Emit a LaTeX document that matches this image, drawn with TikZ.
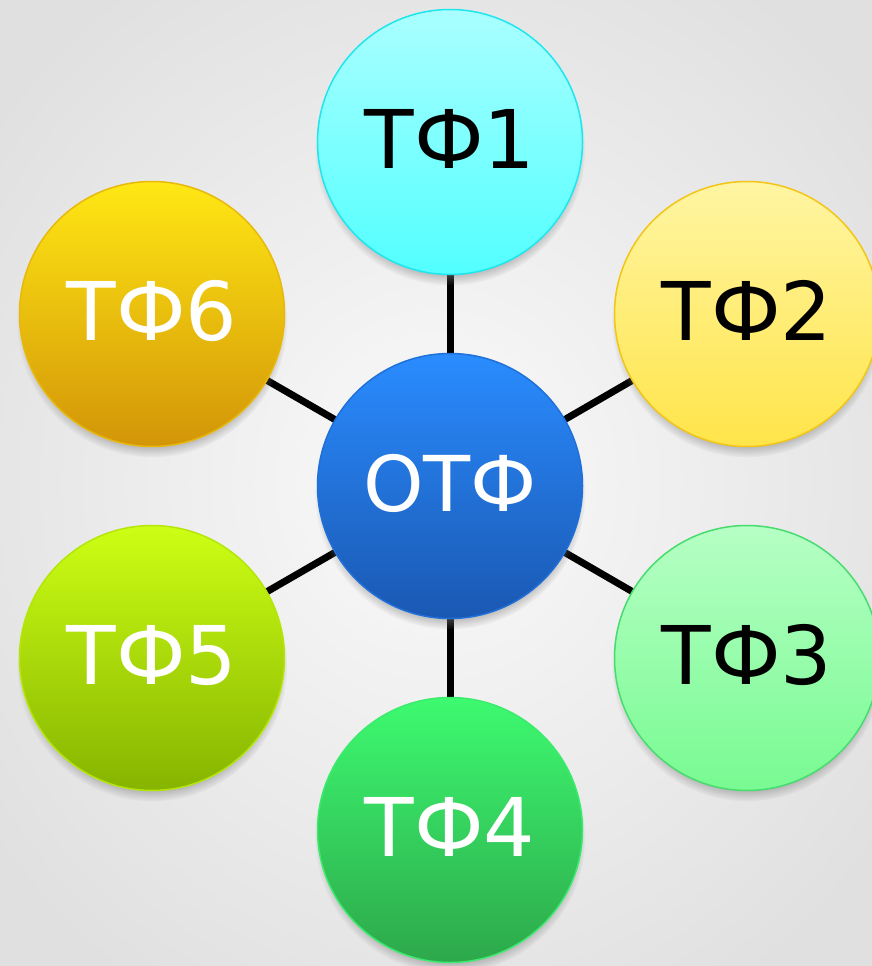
\documentclass[tikz,border=0pt]{standalone}
\usepackage{fontspec}
\setmainfont{DejaVu Sans}
\usetikzlibrary{shadows,fadings}
\pgfdeclarelayer{bglayer}
\pgfdeclarelayer{linelayer}
\pgfsetlayers{bglayer,linelayer,main}
\definecolor{bgin}{HTML}{FAFAFA}
\definecolor{bgout}{HTML}{E0E0E0}
\definecolor{aT}{HTML}{AAFFFF}\definecolor{aB}{HTML}{52FFFF}\definecolor{aD}{HTML}{1EE6EE}
\definecolor{bT}{HTML}{FFF5A3}\definecolor{bB}{HTML}{FFE54A}\definecolor{bD}{HTML}{F2C516}
\definecolor{cT}{HTML}{B6FFC4}\definecolor{cB}{HTML}{78FA92}\definecolor{cD}{HTML}{46DC6E}
\definecolor{dT}{HTML}{3DFA70}\definecolor{dB}{HTML}{2DA84B}\definecolor{dD}{HTML}{3CEB6E}
\definecolor{eT}{HTML}{CDFF14}\definecolor{eB}{HTML}{86B400}\definecolor{eD}{HTML}{B4E60A}
\definecolor{fT}{HTML}{FFE814}\definecolor{fB}{HTML}{D39508}\definecolor{fD}{HTML}{E8B80A}
\definecolor{gT}{HTML}{2A8CFF}\definecolor{gB}{HTML}{1A58B2}\definecolor{gD}{HTML}{2070DA}
\tikzset{
  ball/.style n args={3}{circle, minimum size=265pt, inner sep=0pt,
    top color=#1, bottom color=#2, draw=#3, line width=1.5pt,
    circular drop shadow={shadow xshift=0pt, shadow yshift=-8pt, shadow scale=1.02, opacity=0.85},
    font=\fontsize{81}{100}\selectfont, text height=60pt, text depth=7pt},
  darktext/.style={text=black},
  lighttext/.style={text=white},
  link/.style={line width=7pt, draw=black}
}
\begin{document}
\begin{tikzpicture}[x=1pt,y=-1pt]
\useasboundingbox (0,0) rectangle (871,966);
\begin{pgfonlayer}{bglayer}
\shade[inner color=bgin, outer color=bgout] (-120,-120) rectangle (991,1086);
\end{pgfonlayer}
\node[ball={gT}{gB}{gD}, lighttext, font=\fontsize{77}{100}\selectfont, text height=56pt, text depth=5pt] (c) at (450,486) {ОТФ};
\node[ball={aT}{aB}{aD}, darktext] (t1) at (450,142) {ТФ1};
\node[ball={bT}{bB}{bD}, darktext] (t2) at (747,314) {ТФ2};
\node[ball={cT}{cB}{cD}, darktext] (t3) at (747,658) {ТФ3};
\node[ball={dT}{dB}{dD}, lighttext] (t4) at (450,830) {ТФ4};
\node[ball={eT}{eB}{eD}, lighttext] (t5) at (152,658) {ТФ5};
\node[ball={fT}{fB}{fD}, lighttext] (t6) at (152,314) {ТФ6};
\begin{pgfonlayer}{linelayer}
\draw[link] (c.center) -- (t1.center);
\draw[link] (c.center) -- (t2.center);
\draw[link] (c.center) -- (t3.center);
\draw[link] (c.center) -- (t4.center);
\draw[link] (c.center) -- (t5.center);
\draw[link] (c.center) -- (t6.center);
\end{pgfonlayer}
\end{tikzpicture}
\end{document}
